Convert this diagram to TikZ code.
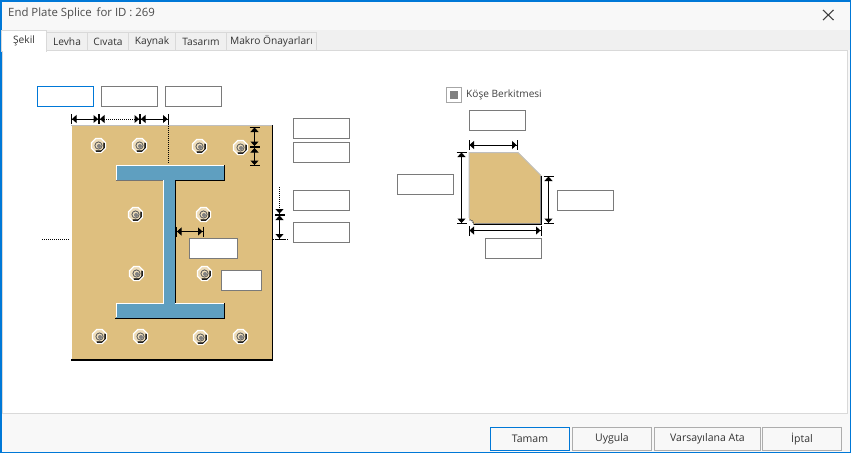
\documentclass[tikz,border=0pt]{standalone}
\usepackage{fontspec}
\setmainfont{Open Sans}
\usetikzlibrary{arrows.meta}
\usetikzlibrary{positioning}
\usetikzlibrary{shapes.geometric}

\definecolor{platetan}{HTML}{DEBF7F}
\definecolor{beamblue}{HTML}{5F9FC0}
\definecolor{dlgblue}{HTML}{0078D7}
\definecolor{dlggray}{HTML}{F0F0F0}
\definecolor{dlglight}{HTML}{F8F8F8}
\definecolor{tabline}{HTML}{D9D9D9}
\definecolor{boxgray}{HTML}{7A7A7A}

\begin{document}
\begin{tikzpicture}[
        x=1pt, y=-1pt,
        inputbox/.style = {
            draw=boxgray,
            fill=white,
            line width = 1pt,
            minimum width = #1,
            minimum height = 20pt,
            inner sep = 0pt,
            outer sep = 0pt
        },
        inputbox/.default = 56pt,
        tabbox/.style = {
            draw=tabline,
            fill=dlggray,
            line width = 1pt,
            minimum width = #1,
            minimum height = 18pt,
            inner sep = 0pt,
            outer sep = 0pt,
            text=black!80,
            font=\fontsize{10.2}{12}\selectfont
        },
        btnbox/.style = {
            draw=black!32,
            fill=dlglight,
            line width = 1pt,
            minimum width = #1,
            minimum height = 23pt,
            inner sep = 0pt,
            outer sep = 0pt,
            text=black!80,
            font=\fontsize{10.5}{12}\selectfont
        },
        bolt/.style = {
            regular polygon,
            regular polygon sides = 8,
            draw=white,
            fill=platetan!55!white,
            line width = 1.3pt,
            minimum size = 15pt,
            inner sep = 0pt,
            outer sep = 0pt,
            path picture = {
                \draw[black, line width = 1.8pt] (path picture bounding box.center) ++(-3pt,-5.8pt) -- ++(6pt,0) -- ++(2.8pt,2.8pt) -- ++(0,6pt);
                \fill[black!50] (path picture bounding box.center) ++(0.5pt,-0.5pt) circle (2pt);
                \draw[black!65, line width = 0.8pt] (path picture bounding box.center) circle (3.6pt);
            }
        },
        dim/.style = {
            line width = 1pt,
            {Bar[width=10pt,line width=1pt]Triangle[length=4.5pt,width=8pt]}-{Triangle[length=4.5pt,width=8pt]Bar[width=10pt,line width=1pt]}
        },
        dimdot/.style = {dim, densely dotted},
        leader/.style = {line width = 1pt, densely dotted}
        ]
% window
        \fill[white] (0,0) rectangle (851,453);
        \fill[dlglight] (1,1) rectangle (850,30);
        \fill[dlggray] (1,30) rectangle (850,50);
        \fill[dlglight] (1,50) rectangle (850,452);
        \draw[tabline, fill=white, line width=1pt] (2,50.5) rectangle (847.5,413.5);
        \draw[dlgblue, line width=1.5pt] (0.75,0.75) rectangle (850.25,452.25);
        \node[anchor=west, inner sep=0pt, text=black!70, font=\fontsize{11.4}{13}\selectfont] (title) at (8,14) {End Plate Splice\, for ID : 269};
        \coordinate (xa) at (823,10);
        \coordinate (xb) at (833.5,20);
        \coordinate (xc) at (823,20);
        \coordinate (xd) at (833.5,10);
        \draw[black!75, line width=1.1pt] (xa) -- (xb);
        \draw[black!75, line width=1.1pt] (xc) -- (xd);
% tabs
        \node[tabbox=41pt, anchor=north west] (levha) at (46.5,32.5) {Levha};
        \node[tabbox=41pt, right=0pt of levha] (civata) {Cıvata};
        \node[tabbox=47pt, right=0pt of civata] (kaynak) {Kaynak};
        \node[tabbox=51pt, right=0pt of kaynak] (tasarim) {Tasarım};
        \node[tabbox=90pt, right=0pt of tasarim] (makro) {Makro Önayarları};
        \node[tabbox=45pt, fill=white, minimum height=21pt, anchor=north west] (sekil) at (1.5,30.5) {Şekil};
        \fill[white] (2.5,48) rectangle (45.5,52);
% top boxes
        \node[inputbox, draw=dlgblue, anchor=north west] (pitcha) at (37.5,86.5) {};
        \node[inputbox, right=8pt of pitcha] (pitchb) {};
        \node[inputbox, right=8pt of pitchb] (pitchc) {};
% end plate
        \fill[platetan] (71,125) rectangle (272,360);
        \draw[black!25, line width=1pt] (71,360) -- (71,125) -- (273,125);
        \draw[white, line width=1pt] (71.5,360) -- (71.5,126);
        \draw[black, line width=1.5pt] (272.5,125) -- (272.5,360) -- (71,360);
% I section
        \fill[beamblue] (116,165) -- (224,165) -- (224,180) -- (175,180) -- (175,303) -- (224,303) -- (224,318) -- (116,318) -- (116,303) -- (163,303) -- (163,180) -- (116,180) -- cycle;
        \draw[white, line width=1pt] (116.5,180) -- (116.5,165.5) -- (223.5,165.5);
        \draw[white, line width=1pt] (163.5,180) -- (163.5,303.5) -- (116.5,303.5) -- (116.5,317);
        \draw[white, line width=1pt] (175,303.5) -- (224,303.5);
        \draw[black, line width=1pt] (224,165) -- (224,180.5) -- (175.5,180.5) -- (175.5,303);
        \draw[black, line width=1pt] (224,303) -- (224,318.5) -- (115,318.5);
        \draw[black!55, line width=1pt] (116,180.5) -- (163,180.5);
% bolts
        \node[bolt] (b1) at (98.5,145.5) {};
        \node[bolt] (b2) at (139.5,145.5) {};
        \node[bolt] (b3) at (199.5,146.5) {};
        \node[bolt] (b4) at (240.5,147.5) {};
        \node[bolt] (b5) at (135.5,214.5) {};
        \node[bolt] (b6) at (203.5,214.5) {};
        \node[bolt] (b7) at (136.5,273.5) {};
        \node[bolt] (b8) at (204.5,273.5) {};
        \node[bolt] (b9) at (99.5,336.5) {};
        \node[bolt] (b10) at (140.5,336.5) {};
        \node[bolt] (b11) at (200.5,337.5) {};
        \node[bolt] (b12) at (240.5,336.5) {};
% boxes right of the plate
        \node[inputbox, anchor=north west] (edgea) at (293.5,118.5) {};
        \node[inputbox, anchor=north west] (edgeb) at (293.5,142.5) {};
        \node[inputbox, anchor=north west] (edgec) at (293.5,190.5) {};
        \node[inputbox, anchor=north west] (edged) at (293.5,222.5) {};
        \node[inputbox=48pt, anchor=north west] (webgap) at (189.5,238.5) {};
        \node[inputbox=40pt, anchor=north west] (weldgap) at (221.5,270.5) {};
% dimensions
        \coordinate (ta) at (71,119);
        \coordinate (tb) at (99,119);
        \coordinate (tc) at (140,119);
        \coordinate (td) at (168.5,119);
        \draw[dim] (ta) -- (tb);
        \draw[dimdot] (tb) -- (tc);
        \draw[dim] (tc) -- (td);
        \coordinate (tu) at (168.5,114);
        \coordinate (tl) at (168.5,163);
        \draw[leader] (tu) -- (tl);
% 
        \coordinate (ra) at (254.5,126.5);
        \coordinate (rb) at (254.5,147);
        \coordinate (rc) at (254.5,166);
        \draw[dim] (ra) -- (rb);
        \draw[dim] (rb) -- (rc);
% 
        \coordinate (sa) at (279.5,187);
        \coordinate (sb) at (279.5,214.5);
        \coordinate (sc) at (279.5,239.5);
        \draw[leader, -{Triangle[length=4.5pt,width=8pt]Bar[width=10pt,line width=1pt]}] (sa) -- (sb);
        \draw[dim] (sb) -- (sc);
% 
        \coordinate (la) at (42,239.5);
        \coordinate (lb) at (70,239.5);
        \coordinate (lc) at (273,239.5);
        \coordinate (ld) at (289,239.5);
        \draw[leader] (la) -- (lb);
        \draw[leader] (lc) -- (ld);
% 
        \coordinate (wa) at (176,231.5);
        \coordinate (wb) at (203.5,231.5);
        \draw[dim] (wa) -- (wb);
% stiffener
        \node[draw=black!35, fill=white, line width=1pt, minimum size=15pt, inner sep=0pt, anchor=north west] (chk) at (445.5,86.5) {};
        \node[fill=black!50, minimum size=8pt, inner sep=0pt] (chkin) at (chk.center) {};
        \node[anchor=west, text=black!75, inner sep=0pt, font=\fontsize{10.1}{12}\selectfont] (chklabel) at (466,95) {Köşe Berkitmesi};
% 
        \node[inputbox, anchor=north west] (stiffa) at (469.5,110.5) {};
        \node[inputbox, anchor=north west] (stiffb) at (397.5,174.5) {};
        \node[inputbox, anchor=north west] (stiffc) at (557.5,190.5) {};
        \node[inputbox, anchor=north west] (stiffd) at (485.5,238.5) {};
% 
        \fill[platetan] (469,152) -- (518,152) -- (541,175.5) -- (541,224) -- (474,224) arc [start angle=0, end angle=90, radius=5pt] -- cycle;
        \draw[black!25, line width=1pt] (469,218) -- (469,152.5) -- (518,152.5) -- (541,175.5);
        \draw[black, line width=1pt] (541.5,175.5) -- (541.5,224.5) -- (474,224.5);
        \draw[black!45, line width=1pt] (540.5,176) -- (540.5,223.5) -- (475,223.5);
        \draw[black, densely dotted, line width=1pt] (474,224.5) arc [start angle=0, end angle=90, radius=5pt];
% 
        \coordinate (ca) at (468.5,145);
        \coordinate (cb) at (517.5,145);
        \draw[dim] (ca) -- (cb);
        \coordinate (cc) at (461.5,151.5);
        \coordinate (cd) at (461.5,224);
        \draw[dim] (cc) -- (cd);
        \coordinate (ce) at (548.5,175.5);
        \coordinate (cf) at (548.5,224);
        \draw[dim] (ce) -- (cf);
        \coordinate (cg) at (468.5,230.5);
        \coordinate (ch) at (541.5,230.5);
        \draw[dim] (cg) -- (ch);
% buttons
        \node[btnbox=79pt, draw=dlgblue, anchor=north west] (tamam) at (490.5,427.5) {Tamam};
        \node[btnbox=79pt, right=3pt of tamam] (uygula) {Uygula};
        \node[btnbox=106pt, right=3pt of uygula] (varsayilan) {Varsayılana Ata};
        \node[btnbox=79pt, right=2pt of varsayilan] (iptal) {İptal};
    \end{tikzpicture}
\end{document}
